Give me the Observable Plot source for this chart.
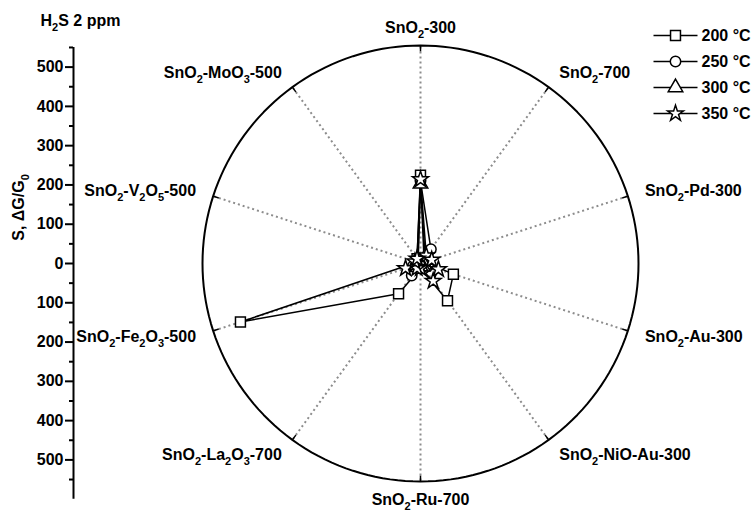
<!DOCTYPE html>
<html><head><meta charset="utf-8">
<script src="https://cdn.jsdelivr.net/npm/d3@7"></script>
<script src="https://cdn.jsdelivr.net/npm/@observablehq/plot@0.6"></script>
<style>body{margin:0;background:#fff}</style>
</head><body><div id="chart"></div>
<script>
// ---- data ----
const categories = ["SnO₂-300","SnO₂-700","SnO₂-Pd-300","SnO₂-Au-300","SnO₂-NiO-Au-300",
  "SnO₂-Ru-700","SnO₂-La₂O₃-700","SnO₂-Fe₂O₃-500","SnO₂-V₂O₅-500","SnO₂-MoO₃-500"];
const temps = ["200 °C","250 °C","300 °C","350 °C"];
const s200 = [225, 15, 12, 88, 117, 12, 95, 482, 10, 15];
const s250 = [210, 45, 15, 20, 15, 10, 38, 20, 10, 12];
const s300 = [203, 20, 8, 10, 10, 8, 12, 15, 10, 10];
const s350 = [214, 25, 30, 48, 55, 12, 15, 40, 15, 15];
const majorTicks = [-500,-400,-300,-200,-100,0,100,200,300,400,500];
const minorTicks = [-550,-450,-350,-250,-150,-50,50,150,250,350,450,550];
const title = "H₂S 2 ppm";
const yLabel = "S, ΔG/G₀";

// ---- layout ----
const W = 753, H = 513, CX = 420, CY = 263, RPX = 218, RMAX = 555, ML = 73;
const k = RPX / RMAX;
const xDomain = [-(CX - ML) / k, (W - CX) / k];
const yDomain = [-(H - CY) / k, CY / k];
const invX = px => (px - CX) / k;
const invY = py => (CY - py) / k;

const n = categories.length;
const ang = i => i * 2 * Math.PI / n;
const series = [s200, s250, s300, s350];
const symbols = ["square", "circle", "triangle", "star"];
const sizes = [5.6, 5.2, 5.4, 5.0];

const rows = series.map((s, si) => s.map((v, i) => ({
  t: temps[si], x: v * Math.sin(ang(i)), y: v * Math.cos(ang(i))
})));

const spokes = categories.map((c, i) => ({
  c, sx: Math.sin(ang(i)), sy: Math.cos(ang(i))
}));
const circle = d3.range(0, 361, 2).map(a => ({
  x: RMAX * Math.sin(a * Math.PI / 180), y: RMAX * Math.cos(a * Math.PI / 180)
}));
const LR = (RPX + 18) / k;
const labelRows = spokes.map(s => ({c: s.c, x: LR * s.sx, y: LR * s.sy, sx: s.sx}));

const marks = [
  Plot.link(spokes, {x1: 0, y1: 0, x2: d => RMAX * d.sx, y2: d => RMAX * d.sy,
    stroke: "#8c8c8c", strokeWidth: 2, strokeDasharray: "2,3"}),
  Plot.line(circle, {x: "x", y: "y", stroke: "black", strokeWidth: 2}),
  Plot.link(spokes, {x1: d => (RMAX - 15) * d.sx, y1: d => (RMAX - 15) * d.sy,
    x2: d => RMAX * d.sx, y2: d => RMAX * d.sy, stroke: "black", strokeWidth: 1.5}),
];
rows.forEach((r, si) => {
  marks.push(Plot.line(r, {x: "x", y: "y", curve: "linear-closed", stroke: "black", strokeWidth: 1.5}));
});
rows.forEach((r, si) => {
  marks.push(Plot.dot(r, {x: "x", y: "y", symbol: () => symbols[si], r: sizes[si],
    fill: "white", stroke: "black", strokeWidth: 1.5}));
});
// category labels
marks.push(Plot.text(labelRows.filter(d => Math.abs(d.sx) < 0.1), {x: "x", y: "y", text: "c", textAnchor: "middle"}));
marks.push(Plot.text(labelRows.filter(d => d.sx >= 0.1), {x: "x", y: "y", text: "c", textAnchor: "start"}));
marks.push(Plot.text(labelRows.filter(d => d.sx <= -0.1), {x: "x", y: "y", text: "c", textAnchor: "end"}));
// left axis
marks.push(Plot.ruleX([xDomain[0]], {y1: -600, y2: 550, stroke: "black", strokeWidth: 2}));
marks.push(Plot.axisY(majorTicks, {anchor: "left", tickSize: 8, tickPadding: 2, strokeWidth: 2,
  tickFormat: d => String(Math.abs(d)), label: null}));
marks.push(Plot.axisY(minorTicks, {anchor: "left", tickSize: 4, strokeWidth: 2,
  tickFormat: () => "", label: null}));
marks.push(Plot.text([yLabel], {x: invX(18), y: invY(207), rotate: -90, textAnchor: "middle"}));
marks.push(Plot.text([title], {x: invX(40), y: invY(20), textAnchor: "start"}));
// legend
const leg = temps.map((t, i) => ({t, i, y: invY(35 + 26 * i)}));
marks.push(Plot.link(leg, {x1: invX(653), x2: invX(697), y1: "y", y2: "y", stroke: "black", strokeWidth: 1.5}));
leg.forEach((d, i) => {
  marks.push(Plot.dot([d], {x: invX(675), y: "y", symbol: () => symbols[i], r: sizes[i],
    fill: "white", stroke: "black", strokeWidth: 1.5}));
});
marks.push(Plot.text(leg, {x: invX(701), y: "y", text: "t", textAnchor: "start"}));

const chart = Plot.plot({
  width: W, height: H,
  marginLeft: ML, marginRight: 0, marginTop: 0, marginBottom: 0,
  x: {domain: xDomain, axis: null},
  y: {domain: yDomain},
  style: {fontFamily: "'Liberation Sans', Arial, sans-serif", fontSize: "16px", fontWeight: "bold",
    background: "white", overflow: "visible", color: "black"},
  marks
});

// subscripts
const ns = "http://www.w3.org/2000/svg";
const subRe = /[₀-₉]/;
const plain = s => s.replace(/[₀-₉]/g, c => String(c.charCodeAt(0) - 0x2080));
chart.querySelectorAll("text").forEach(t => {
  const els = t.querySelectorAll("tspan").length ? [...t.querySelectorAll("tspan")] : [t];
  els.forEach(el => {
    const s = el.textContent;
    if (!subRe.test(s)) return;
    el.textContent = "";
    let shifted = false;
    s.split(/([₀-₉]+)/).forEach(p => {
      if (!p) return;
      const ts = document.createElementNS(ns, "tspan");
      if (subRe.test(p)) {
        ts.textContent = plain(p);
        ts.setAttribute("font-size", "11");
        ts.setAttribute("dy", "5");
        shifted = true;
      } else {
        ts.textContent = p;
        if (shifted) { ts.setAttribute("dy", "-5"); shifted = false; }
      }
      el.appendChild(ts);
    });
  });
});
document.getElementById("chart").appendChild(chart);
</script>
</body></html>
